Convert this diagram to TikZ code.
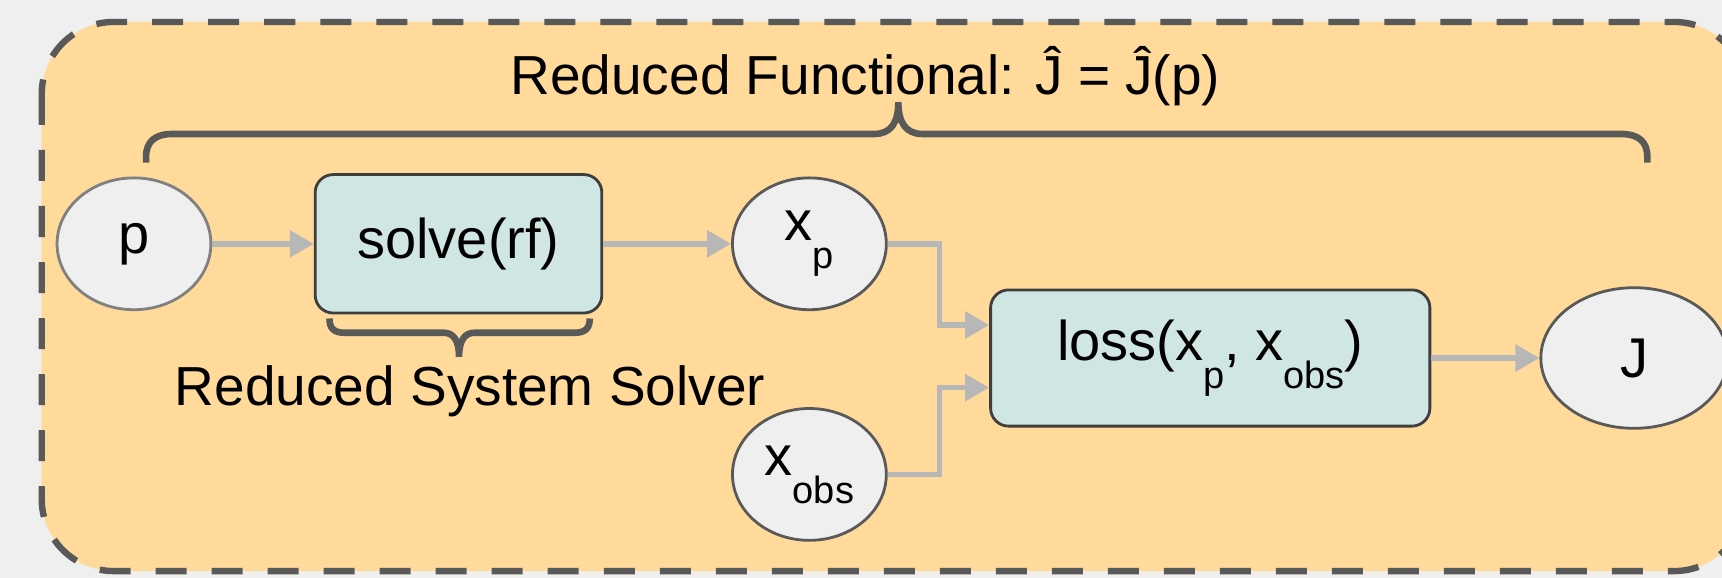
\documentclass[tikz,border=0pt]{standalone}
\usepackage{fontspec}
\setmainfont{Liberation Sans}
\usepackage{tikz}
\usetikzlibrary{calc,shapes.geometric,arrows.meta}
\usepackage{xcolor}
\definecolor{pagegray}{HTML}{EFEFEF}
\definecolor{panelfill}{HTML}{FFDA9A}
\definecolor{opfill}{HTML}{D0E6E3}
\definecolor{darkline}{HTML}{595959}
\definecolor{flowgray}{HTML}{B7B7B7}
\newcommand{\lowsub}[1]{\raisebox{-0.5em}{\fontsize{19}{21}\selectfont #1}}

\begin{document}
\begin{tikzpicture}[x=0.549pt,y=-0.549pt]
  \tikzset{varnode/.style={ellipse,fill=pagegray,draw=darkline,line width=1.4pt,minimum width=76.9pt,minimum height=65.9pt,inner sep=0pt,font=\fontsize{28}{32}\selectfont}}
  \tikzset{opnode/.style={rectangle,rounded corners=9pt,fill=opfill,draw=darkline!70!black,line width=1.4pt,inner sep=0pt,font=\fontsize{28}{32}\selectfont}}
  \tikzset{flowedge/.style={draw=flowgray,line width=2.8pt,-{Triangle[length=12pt,width=13pt]}}}
  \tikzset{bracestroke/.style={draw=darkline,line width=3.3pt}}
  \tikzset{textlabel/.style={font=\fontsize{27.5}{32}\selectfont,inner sep=0pt}}
  \useasboundingbox (0,0) rectangle (1568,526);
  \fill[pagegray] (0,0) rectangle (1568,526);
  \clip (0,0) rectangle (1568,526);
  \draw[fill=panelfill,draw=darkline,line width=3.2pt,dash pattern=on 15.5pt off 12.5pt,rounded corners=36pt] (38,20) rectangle (1590,520);
  \node[textlabel,anchor=base] (ftitle) at (788,86) {Reduced Functional: Ĵ = Ĵ(p)};
  \draw[bracestroke] (133,148) -- (133,143) .. controls (133,129) and (141,122) .. (157,122) -- (796,122)
    .. controls (811,122) and (818,112) .. (818,93) .. controls (818,112) and (825,122) .. (840,122)
    -- (1476,122) .. controls (1492,122) and (1500,129) .. (1500,143) -- (1500,148);
  \node[varnode,draw=gray] (p) at (122,222) {p};
  \node[opnode,minimum width=143.3pt,minimum height=69.2pt] (solve) at (417.5,222) {solve(rf)};
  \node[varnode] (xp) at (737,222) {x\lowsub{p}};
  \node[varnode] (xobs) at (737,432) {x\lowsub{obs}};
  \node[opnode,minimum width=219.6pt,minimum height=68.1pt] (loss) at (1102,326) {loss(x\lowsub{p}, x\lowsub{obs})};
  \node[varnode,minimum width=93.3pt,minimum height=70.3pt] (J) at (1488,326) {J};
  \draw[bracestroke] (300,290) .. controls (300,299) and (304,303) .. (314,303) -- (404,303)
    .. controls (413,303) and (418,310) .. (418,325) .. controls (418,310) and (423,303) .. (432,303)
    -- (523,303) .. controls (533,303) and (537,299) .. (537,290);
  \node[textlabel,anchor=base] (solverlabel) at (428,369) {Reduced System Solver};
  \draw[flowedge] (p) -- (solve);
  \draw[flowedge] (solve) -- (xp);
  \draw[flowedge] (xp.east) -- ++(47,0) |- ([yshift=16.5pt]loss.west);
  \draw[flowedge] (xobs.east) -- ++(47,0) |- ([yshift=-14.8pt]loss.west);
  \draw[flowedge] (loss) -- (J);
\end{tikzpicture}
\end{document}
